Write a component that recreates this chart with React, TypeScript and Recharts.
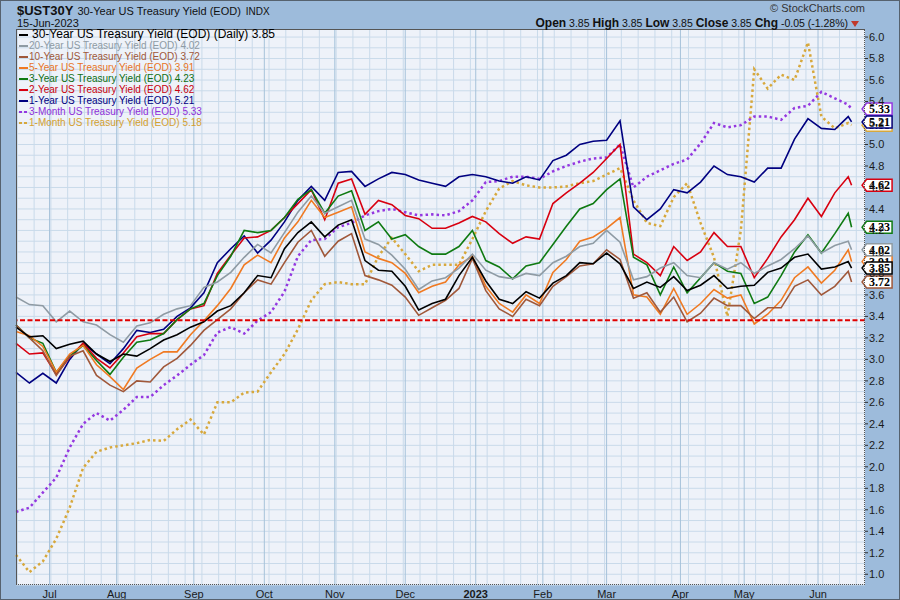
import React from 'react'
import {
  CartesianGrid,
  Line,
  LineChart,
  ReferenceDot,
  ReferenceLine,
  XAxis,
  YAxis,
} from 'recharts'

// trading-day index since 15-Jun-2022, sampled every 4 sessions
const days = [
  0, 4, 8, 12, 16, 20, 24, 28, 32, 36, 40, 44, 48, 52, 56, 60, 64, 68, 72, 76,
  80, 84, 88, 92, 96, 100, 104, 108, 112, 116, 120, 124, 128, 132, 136, 140,
  144, 148, 152, 156, 160, 164, 168, 172, 176, 180, 184, 188, 192, 196, 200,
  204, 208, 212, 216, 220, 224, 228, 232, 236, 240, 244, 248, 249,
]

const yield30y = [
  3.3, 3.21, 3.22, 3.1, 3.14, 3.17, 3.05, 2.98, 3.05, 3.03,
  3.1, 3.18, 3.23, 3.3, 3.35, 3.45, 3.5, 3.62, 3.78, 3.76,
  4.03, 4.18, 4.28, 4.14, 4.25, 4.3, 3.92, 3.83, 3.82, 3.68,
  3.46, 3.52, 3.56, 3.78, 3.95, 3.73, 3.56, 3.52, 3.63, 3.57,
  3.71, 3.78, 3.9, 3.89, 3.99, 3.89, 3.66, 3.72, 3.67, 3.77,
  3.64, 3.69, 3.78, 3.66, 3.68, 3.69, 3.81, 3.85, 3.95, 3.98,
  3.84, 3.86, 3.91, 3.85,
]
const yield20y = [
  3.58, 3.51, 3.5, 3.35, 3.45, 3.35, 3.32, 3.23, 3.16, 3.31,
  3.34, 3.42, 3.47, 3.5, 3.67, 3.72, 3.81, 3.95, 4.07, 3.99,
  4.18, 4.37, 4.52, 4.36, 4.42, 4.48, 4.12, 4.07, 3.97, 3.84,
  3.65, 3.73, 3.76, 3.85, 3.98, 3.83, 3.77, 3.75, 3.8, 3.78,
  3.9, 3.96, 4.05, 4.08, 4.2, 4.09, 3.74, 3.77, 3.85, 3.9,
  3.78, 3.76, 3.9, 3.84, 3.9, 3.8, 3.87, 3.93, 4.03, 4.15,
  3.99, 4.06, 4.1, 4.02,
]
const yield10y = [
  3.32, 3.2, 3.08, 2.85, 3.03, 3.08, 2.85, 2.76, 2.7, 2.8,
  2.79, 2.93, 3.01, 3.13, 3.27, 3.37, 3.47, 3.62, 3.74, 3.7,
  3.9, 4.09, 4.2, 3.96, 4.1, 4.17, 3.78, 3.74, 3.69, 3.58,
  3.41, 3.48, 3.55, 3.66, 3.94, 3.64, 3.47, 3.4, 3.56, 3.5,
  3.68, 3.77, 3.87, 3.89, 4.02, 3.93, 3.57, 3.62, 3.44, 3.58,
  3.35, 3.43, 3.57, 3.5, 3.5, 3.38, 3.48, 3.48, 3.68, 3.74,
  3.6, 3.68, 3.82, 3.72,
]
const yield5y = [
  3.26, 3.22, 3.12, 2.88, 3.05, 3.13, 2.95, 2.84, 2.72, 2.92,
  3.0, 3.07, 3.07, 3.23, 3.36, 3.5, 3.66, 3.88, 3.97, 3.9,
  4.13, 4.28, 4.48, 4.32, 4.37, 4.42, 4.0, 3.94, 3.9, 3.8,
  3.62, 3.68, 3.72, 3.88, 3.96, 3.68, 3.52, 3.44, 3.6, 3.52,
  3.81, 3.93, 4.1, 4.14, 4.22, 4.32, 3.6, 3.58, 3.42, 3.66,
  3.42, 3.52, 3.65, 3.57, 3.6, 3.33, 3.42, 3.55, 3.76, 3.86,
  3.71, 3.83, 4.02, 3.91,
]
const yield3y = [
  3.32, 3.2, 3.15, 2.88, 3.03, 3.13, 2.99, 2.86, 3.02, 3.16,
  3.18, 3.24, 3.37, 3.47, 3.52, 3.78, 3.96, 4.2, 4.18, 4.2,
  4.32, 4.49, 4.58, 4.36, 4.52, 4.57, 4.2, 4.28, 4.12, 4.16,
  4.05, 3.98, 3.98, 4.05, 4.2, 3.92, 3.86, 3.75, 3.87, 3.9,
  4.07, 4.24, 4.4, 4.45, 4.58, 4.68, 3.95, 3.88, 3.6, 3.86,
  3.62, 3.76, 3.9, 3.82, 3.8, 3.52, 3.58, 3.78, 4.0, 4.16,
  3.99, 4.17, 4.36, 4.23,
]
const yield2y = [
  3.15, 3.05, 3.06, 2.86, 3.02, 3.15, 3.01, 2.92, 3.06, 3.21,
  3.24, 3.24, 3.37, 3.47, 3.5, 3.8, 3.97, 4.13, 4.14, 4.2,
  4.32, 4.45, 4.58, 4.3, 4.64, 4.68, 4.35, 4.48, 4.44, 4.34,
  4.31, 4.22, 4.22, 4.27, 4.33, 4.28, 4.17, 4.08, 4.14, 4.12,
  4.45, 4.55, 4.64, 4.74, 4.87, 5.0, 3.98, 3.9, 3.78, 4.05,
  3.92, 4.0, 4.18, 4.05, 4.05, 3.76, 3.94, 4.14, 4.3, 4.5,
  4.33, 4.55, 4.7, 4.62,
]
const yield1y = [
  2.88, 2.78, 2.87, 2.78, 3.0, 3.15, 3.05, 2.96, 3.1, 3.27,
  3.25, 3.28, 3.4, 3.48, 3.62, 3.9, 4.03, 4.15, 3.99, 4.11,
  4.28, 4.48, 4.61, 4.48, 4.74, 4.75, 4.61, 4.68, 4.74, 4.72,
  4.67, 4.64, 4.61, 4.7, 4.72, 4.7, 4.66, 4.64, 4.7, 4.67,
  4.85, 4.9, 5.0, 5.03, 5.04, 5.22, 4.42, 4.3, 4.4, 4.58,
  4.55, 4.65, 4.8, 4.72, 4.7, 4.65, 4.78, 4.78, 5.05, 5.24,
  5.15, 5.14, 5.26, 5.21,
]
const yield3m = [
  1.58, 1.62, 1.76, 1.9, 2.18, 2.4, 2.5, 2.43, 2.53, 2.65,
  2.65, 2.76, 2.85, 2.95, 3.04, 3.25, 3.3, 3.24, 3.36, 3.44,
  3.63, 3.96, 4.11, 4.12, 4.23, 4.27, 4.34, 4.38, 4.4, 4.37,
  4.34, 4.35, 4.34, 4.38, 4.48, 4.65, 4.66, 4.7, 4.7, 4.68,
  4.75, 4.8, 4.84, 4.87, 4.88, 5.0, 4.6, 4.7, 4.76, 4.82,
  4.86, 5.01, 5.2, 5.16, 5.18, 5.26, 5.26, 5.23, 5.34, 5.36,
  5.49, 5.43, 5.37, 5.33,
]
const yield1m = [
  1.18, 1.02, 1.12, 1.33, 1.62, 1.99, 2.14, 2.18, 2.2, 2.22,
  2.25, 2.24, 2.35, 2.44, 2.3, 2.6, 2.6, 2.69, 2.7, 2.88,
  3.05, 3.28, 3.55, 3.7, 3.72, 3.7, 3.7, 3.96, 4.13, 3.98,
  3.82, 3.88, 3.88, 3.88, 4.12, 4.38, 4.59, 4.66, 4.62, 4.6,
  4.6, 4.61, 4.64, 4.66, 4.72, 4.78, 4.48, 4.27, 4.24, 4.51,
  4.64, 4.27, 3.95, 3.4, 4.2, 5.7, 5.52, 5.65, 5.6, 5.95,
  5.26, 5.15, 5.2, 5.18,
]

const monthTicks = [10, 30, 53, 74, 95, 116, 137, 157, 176, 198, 217, 239]
const monthLabels = ['Jul', 'Aug', 'Sep', 'Oct', 'Nov', 'Dec', '2023', 'Feb', 'Mar', 'Apr', 'May', 'Jun']
const yTicks = [
  1.0, 1.2, 1.4, 1.6, 1.8, 2.0, 2.2, 2.4, 2.6, 2.8, 3.0, 3.2, 3.4,
  3.6, 3.8, 4.0, 4.2, 4.4, 4.6, 4.8, 5.0, 5.2, 5.4, 5.6, 5.8, 6.0,
]
const levelLine = 3.365

// grid positions (weekly verticals, 0.1 horizontals)
const weekLines = Array.from({ length: 51 }, (_, k) => 0.4 + 5 * k)
const tenthLines = Array.from({ length: 52 }, (_, k) => Math.round((0.9 + k * 0.1) * 10) / 10)

const FONT = '"Liberation Sans", Arial, Helvetica, sans-serif'

type TSeries = {
  key: string
  name: string
  color: string
  text: string
  dotted?: boolean
  values: number[]
}

const series: TSeries[] = [
  { key: 'y30', name: '30-Year US Treasury Yield (EOD) (Daily)', color: '#000000', text: '#000000', values: yield30y },
  { key: 'y20', name: '20-Year US Treasury Yield (EOD)', color: '#8f9ba4', text: '#8f9ba4', values: yield20y },
  { key: 'y10', name: '10-Year US Treasury Yield (EOD)', color: '#a0583a', text: '#a0583a', values: yield10y },
  { key: 'y5', name: '5-Year US Treasury Yield (EOD)', color: '#f07a22', text: '#e8741e', values: yield5y },
  { key: 'y3', name: '3-Year US Treasury Yield (EOD)', color: '#0f7a12', text: '#0f6e12', values: yield3y },
  { key: 'y2', name: '2-Year US Treasury Yield (EOD)', color: '#d80010', text: '#c8000c', values: yield2y },
  { key: 'y1', name: '1-Year US Treasury Yield (EOD)', color: '#000080', text: '#000080', values: yield1y },
  { key: 'm3', name: '3-Month US Treasury Yield (EOD)', color: '#9438e0', text: '#8f30d8', dotted: true, values: yield3m },
  { key: 'm1', name: '1-Month US Treasury Yield (EOD)', color: '#d7a83c', text: '#d4a030', dotted: true, values: yield1m },
]

const lineOrder = ['m1', 'm3', 'y1', 'y2', 'y3', 'y5', 'y10', 'y20', 'y30']
const tagOrder = ['m1', 'm3', 'y1', 'y2', 'y3', 'y5', 'y20', 'y10', 'y30']
const byKey = (k: string) => series.find((s) => s.key === k) as TSeries
const lastOf = (s: TSeries) => s.values[s.values.length - 1]
const lastDay = days[days.length - 1]

const chartData = days.map((d, i) => {
  const row: Record<string, number> = { day: d }
  series.forEach((s) => {
    row[s.key] = s.values[i]
  })
  return row
})

const MonthTick = ({ x, y, payload }: any) => {
  const label = monthLabels[monthTicks.indexOf(payload.value)]
  return (
    <text
      x={x}
      y={y + 11}
      textAnchor='middle'
      fontSize={11}
      fontFamily={FONT}
      fill='#1a1a1a'
      fontWeight={label === '2023' ? 'bold' : 'normal'}
    >
      {label}
    </text>
  )
}

const EndTag = ({ cx, cy, color, text }: { cx: number; cy: number; color: string; text: string }) => {
  const x0 = cx + 10.5
  return (
    <g>
      <path
        d={`M${x0},${cy} L${x0 + 4.5},${cy - 6} L${x0 + 30},${cy - 6} L${x0 + 30},${cy + 6} L${x0 + 4.5},${cy + 6} Z`}
        fill='#ffffff'
        stroke={color}
        strokeWidth={1.5}
      />
      <text
        x={x0 + 17.5}
        y={cy + 4}
        textAnchor='middle'
        fontFamily='"Liberation Serif", "Times New Roman", serif'
        fontWeight='bold'
        fontSize={12}
        fill='#000'
      >
        {text}
      </text>
    </g>
  )
}

const LegendBlock = () => (
  <div style={{ position: 'absolute', left: 19, top: 29, fontFamily: FONT }}>
    {series.map((s, i) => (
      <div key={s.key} style={{ display: 'flex', alignItems: 'center', height: 11, whiteSpace: 'nowrap' }}>
        <svg width={9} height={4} style={{ marginRight: i === 0 ? 4 : 1 }}>
          <line
            x1={0}
            y1={2}
            x2={9}
            y2={2}
            stroke={s.color}
            strokeWidth={2}
            strokeDasharray={s.dotted ? '3 2' : undefined}
          />
        </svg>
        <span style={{ fontSize: i === 0 ? 12 : 10, lineHeight: '11px', color: s.text }}>
          {s.name} {lastOf(s).toFixed(2)}
        </span>
      </div>
    ))}
  </div>
)

export default function App() {
  return (
    <div
      style={{
        position: 'absolute',
        left: 0,
        top: 0,
        width: 900,
        height: 600,
        background: '#9dbbdb',
        overflow: 'hidden',
        fontFamily: FONT,
      }}
    >
      <div style={{ position: 'absolute', left: 0, top: 0 }}>
        <LineChart width={900} height={600} data={chartData} margin={{ top: 29, right: 0, bottom: 0, left: 16 }}>
          <CartesianGrid
            verticalValues={weekLines}
            horizontalValues={tenthLines}
            stroke='#c9daea'
            fill='#eef2f9'
            fillOpacity={1}
          />
          <CartesianGrid horizontal={false} verticalValues={monthTicks} stroke='#a6c2da' />
          <XAxis
            type='number'
            dataKey='day'
            domain={[0, 253]}
            ticks={monthTicks}
            interval={0}
            tick={<MonthTick />}
            tickLine={false}
            axisLine={false}
            tickSize={0}
            height={15}
          />
          <YAxis
            orientation='right'
            width={35}
            domain={[0.9, 6.075]}
            ticks={yTicks}
            interval={0}
            allowDataOverflow
            tickFormatter={(v: number) => v.toFixed(1)}
            tick={{ fontSize: 11, fill: '#1a1a1a', fontFamily: FONT }}
            tickLine={{ stroke: '#333' }}
            tickSize={3}
            tickMargin={1}
            axisLine={false}
          />
          {lineOrder.map((k) => {
            const s = byKey(k)
            return (
              <Line
                key={s.key}
                type='linear'
                dataKey={s.key}
                stroke={s.color}
                strokeWidth={s.dotted ? 2.5 : 1.6}
                strokeDasharray={s.dotted ? '2.5 3' : undefined}
                dot={false}
                activeDot={false}
                isAnimationActive={false}
              />
            )
          })}
          <ReferenceLine y={levelLine} stroke='#e00000' strokeWidth={2} strokeDasharray='5 2.5' />
          {tagOrder.map((k) => {
            const s = byKey(k)
            const v = lastOf(s)
            return (
              <ReferenceDot
                key={'tag-' + s.key}
                x={lastDay}
                y={v}
                r={0}
                ifOverflow='visible'
                shape={(p: any) => <EndTag cx={p.cx} cy={p.cy} color={s.color} text={v.toFixed(2)} />}
              />
            )
          })}
        </LineChart>
      </div>

      {/* plot frame */}
      <div
        style={{
          position: 'absolute',
          left: 16,
          top: 29,
          width: 849,
          height: 556,
          boxSizing: 'border-box',
          borderLeft: '1px solid #555',
          borderTop: '1px solid #555',
          borderRight: '1px dotted #555',
          borderBottom: '1px dotted #555',
          pointerEvents: 'none',
        }}
      />

      {/* header */}
      <div style={{ position: 'absolute', left: 17, top: 2, whiteSpace: 'nowrap', lineHeight: '15px', color: '#111' }}>
        <span style={{ fontSize: 13, fontWeight: 'bold' }}>$UST30Y</span>
        <span style={{ fontSize: 11, marginLeft: 4 }}>30-Year US Treasury Yield (EOD)</span>
        <span style={{ fontSize: 10, marginLeft: 5 }}>INDX</span>
      </div>
      <div style={{ position: 'absolute', left: 17, top: 17, fontSize: 11, lineHeight: '12px', color: '#111' }}>
        15-Jun-2023
      </div>
      <div style={{ position: 'absolute', right: 35, top: 2, fontSize: 11, lineHeight: '12px', color: '#333' }}>
        © StockCharts.com
      </div>
      <div
        style={{
          position: 'absolute',
          right: 52,
          top: 16,
          fontSize: 10.5,
          lineHeight: '14px',
          color: '#111',
          whiteSpace: 'nowrap',
        }}
      >
        <b style={{ fontSize: 12 }}>Open</b> 3.85 <b style={{ fontSize: 12 }}>High</b> 3.85{' '}
        <b style={{ fontSize: 12 }}>Low</b> 3.85 <b style={{ fontSize: 12 }}>Close</b> 3.85{' '}
        <b style={{ fontSize: 12 }}>Chg</b> -0.05 (-1.28%)
      </div>
      <div
        style={{
          position: 'absolute',
          left: 851,
          top: 21,
          width: 0,
          height: 0,
          borderLeft: '4px solid transparent',
          borderRight: '4px solid transparent',
          borderTop: '6px solid #c0392b',
        }}
      />

      <LegendBlock />

      {/* outer frame */}
      <div
        style={{
          position: 'absolute',
          left: 0,
          top: 0,
          width: 900,
          height: 600,
          boxSizing: 'border-box',
          border: '1px solid #56626e',
          pointerEvents: 'none',
        }}
      />
    </div>
  )
}
